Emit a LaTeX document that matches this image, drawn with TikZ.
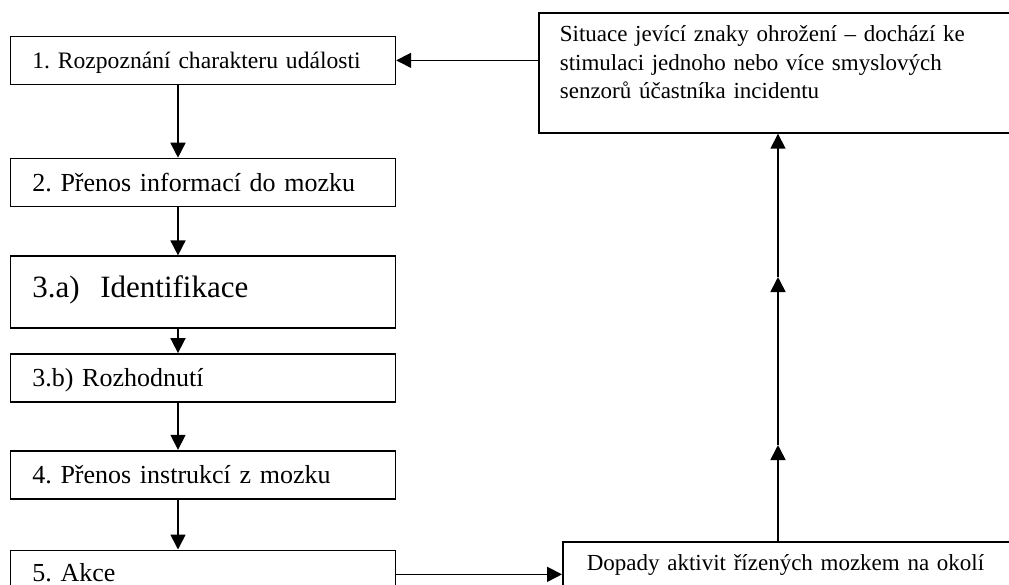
\documentclass[tikz,border=0pt]{standalone}
\usepackage{fontspec}
\setmainfont{Liberation Serif}
\frenchspacing
\usepackage{tikz}
\usetikzlibrary{arrows.meta,positioning}
\tikzset{
  every picture/.style={line width=0.85pt},
  stepbox/.style={
    draw,
    rectangle,
    align=left,
    text width=170.5pt,
    inner xsep=11pt,
    inner ysep=0pt,
    text height=16.5pt,
    text depth=7.5pt,
    font=\fontsize{13}{15.5}\selectfont
  },
  smallstep/.style={stepbox, text height=16pt, text depth=8pt, font=\fontsize{11.8}{14}\selectfont},
  bigstep/.style={stepbox, text height=20.5pt, text depth=15.5pt, font=\fontsize{15.5}{19}\selectfont},
  outerbox/.style={
    draw,
    rectangle,
    align=left,
    inner ysep=0pt,
    font=\fontsize{11.5}{14.25}\selectfont
  },
  flowarrow/.style={-{Triangle[length=7.5pt,width=7.5pt]}}
}

\begin{document}
\begin{tikzpicture}
  \clip (0,0) rectangle (504.5pt,-292.5pt);

  % left column of steps
  \node[smallstep, anchor=north west] (rozp) at (4.75pt,-17.75pt) {1. Rozpoznání charakteru události};
  \node[stepbox, below=36.25pt of rozp] (prenos) {2. Přenos informací do mozku};
  \node[bigstep, below=24pt of prenos] (ident) {3.a)\ \ Identifikace};
  \node[stepbox, below=12pt of ident] (rozh) {3.b) Rozhodnutí};
  \node[stepbox, below=23.5pt of rozh] (instr) {4. Přenos instrukcí z mozku};
  \node[stepbox, text height=15.5pt, text depth=8.5pt, below=25pt of instr] (akce) {5. Akce};

  % right side
  \node[outerbox, anchor=north west, text width=230pt, inner xsep=10.5pt,
        text height=14.5pt, text depth=45.5pt] (situace) at (269pt,-6pt)
        {Situace jevící znaky ohrožení – dochází ke\\stimulaci jednoho nebo více smyslových\\senzorů účastníka incidentu};
  \node[outerbox, anchor=north west, text width=215pt, inner xsep=12pt,
        text height=14.5pt, text depth=9.5pt] (dopady) at (281pt,-270.5pt)
        {Dopady aktivit řízených mozkem na okolí};

  \coordinate (ax) at (89pt,0);
  \coordinate (up1) at (389pt,-222.5pt);
  \coordinate (up2) at (389pt,-138.5pt);

  % connectors
  \draw[flowarrow] (ax |- rozp.south) -- (ax |- prenos.north);
  \draw[flowarrow] (ax |- prenos.south) -- (ax |- ident.north);
  \draw[flowarrow] (ax |- ident.south) -- (ax |- rozh.north);
  \draw[flowarrow] (ax |- rozh.south) -- (ax |- instr.north);
  \draw[flowarrow] (ax |- instr.south) -- (ax |- akce.north);
  \draw[flowarrow] (akce.east) -- (akce.east -| dopady.west);
  \draw[flowarrow] (up1 |- dopady.north) -- (up1);
  \draw[flowarrow] (up1) -- (up2);
  \draw[flowarrow] (up2) -- (up2 |- situace.south);
  \draw[flowarrow] (rozp.east -| situace.west) -- (rozp.east);
\end{tikzpicture}
\end{document}
